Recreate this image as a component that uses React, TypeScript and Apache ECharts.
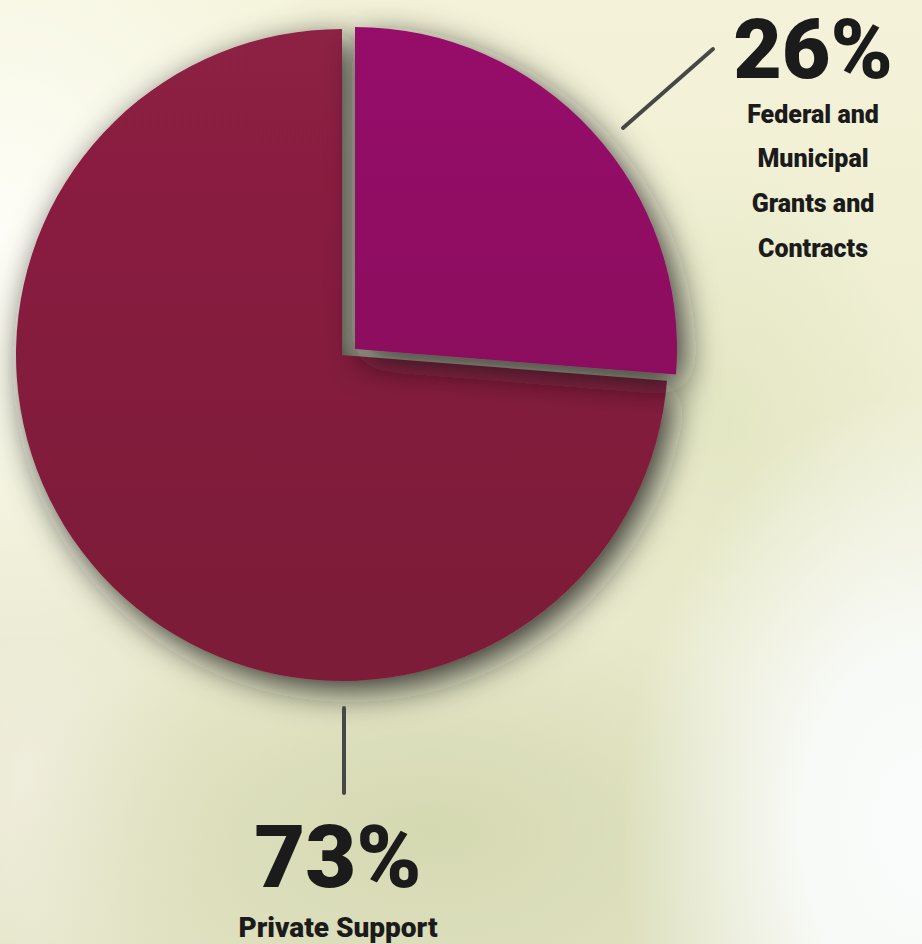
import React, { useEffect, useRef } from "react";
import * as echarts from "echarts";

// ---- data ----
const categories = ["Federal and Municipal Grants and Contracts", "Private Support"];
const values = [26, 73];
const nameLines = [["Federal and", "Municipal", "Grants and", "Contracts"], ["Private Support"]];

const FONT = "Roboto, 'Open Sans', 'DejaVu Sans', sans-serif";
const INK = "#1b1b1b";

export default function App() {
  const ref = useRef<HTMLDivElement>(null);

  useEffect(() => {
    if (!ref.current) return;
    const chart = echarts.init(ref.current, undefined, { renderer: "svg" });

    const sliceColors = [
      new echarts.graphic.LinearGradient(0, 0, 0, 1, [
        { offset: 0, color: "#96116A" },
        { offset: 1, color: "#8C0F5E" },
      ]),
      new echarts.graphic.LinearGradient(0, 0, 0, 1, [
        { offset: 0, color: "#8D2044" },
        { offset: 1, color: "#7B1B37" },
      ]),
    ];

    // each slice drawn by its own pie series (same data), so the exploded slice can be placed freely
    const slicePlacement = [
      { center: [355, 349], radius: 322 },
      { center: [342, 355], radius: 326 },
    ];

    const series = slicePlacement.map((pl, s) => ({
      type: "pie",
      center: pl.center,
      radius: pl.radius,
      startAngle: 90,
      clockwise: true,
      silent: true,
      z: s === 0 ? 3 : 2,
      label: { show: false },
      labelLine: { show: false },
      data: categories.map((c, i) => ({
        name: c,
        value: values[i],
        itemStyle:
          i === s
            ? {
                color: sliceColors[i],
                shadowBlur: 34,
                shadowColor: "rgba(25,25,20,0.85)",
                shadowOffsetX: 8,
                shadowOffsetY: 10,
              }
            : { color: "transparent", shadowBlur: 0, shadowColor: "transparent" },
      })),
    }));

    // label layout (positions only; texts come from the data arrays)
    const labelBlocks = [
      { x: 813, pctY: 49.5, pctSize: 84, nameY: [114, 158.5, 203.5, 248.5], nameSize: 25 },
      { x: 338, pctY: 856, pctSize: 88, nameY: [927], nameSize: 28 },
    ];

    const texts: any[] = [];
    labelBlocks.forEach((b, i) => {
      texts.push({
        type: "text",
        x: b.x,
        y: b.pctY,
        z: 10,
        style: {
          text: `${values[i]}%`,
          fill: INK,
          font: `900 ${b.pctSize}px ${FONT}`,
          lineHeight: 64,
          align: "center",
          verticalAlign: "middle",
        },
      });
      nameLines[i].forEach((line, k) => {
        texts.push({
          type: "text",
          x: b.x,
          y: b.nameY[k],
          z: 10,
          style: {
            text: line,
            fill: INK,
            font: `900 ${b.nameSize}px ${FONT}`,
            lineHeight: b.nameSize + 4,
            align: "center",
            verticalAlign: "middle",
          },
        });
      });
    });

    const option: any = {
      animation: false,
      backgroundColor: "transparent",
      series,
      graphic: [
        {
          type: "line",
          shape: { x1: 623, y1: 128, x2: 713, y2: 49 },
          style: { stroke: "#474747", lineWidth: 4, lineCap: "round" },
          z: 10,
        },
        {
          type: "line",
          shape: { x1: 344, y1: 708, x2: 344, y2: 793 },
          style: { stroke: "#474747", lineWidth: 4, lineCap: "round" },
          z: 10,
        },
        ...texts,
      ],
    };

    chart.setOption(option);
    return () => chart.dispose();
  }, []);

  const bg = [
    "radial-gradient(ellipse 300px 440px at 922px 830px, rgba(250,252,252,1) 0%, rgba(250,252,252,0.9) 40%, rgba(250,252,252,0) 100%)",
    "radial-gradient(ellipse 380px 420px at 0px 230px, rgba(254,254,248,1), rgba(254,254,248,0))",
    "radial-gradient(ellipse 420px 230px at 430px 830px, rgba(212,216,176,0.95), rgba(212,216,176,0))",
    "radial-gradient(ellipse 200px 280px at 720px 420px, rgba(224,228,190,0.75), rgba(224,228,190,0))",
    "radial-gradient(ellipse 180px 300px at 30px 780px, rgba(240,238,222,0.9), rgba(240,238,222,0))",
    "linear-gradient(180deg, #F4F3D9 0%, #ECECD0 55%, #E2E3C4 100%)",
  ].join(",");

  return (
    <div style={{ position: "fixed", left: 0, top: 0, width: 922, height: 944, background: bg }}>
      <div ref={ref} style={{ width: 922, height: 944 }} />
    </div>
  );
}
